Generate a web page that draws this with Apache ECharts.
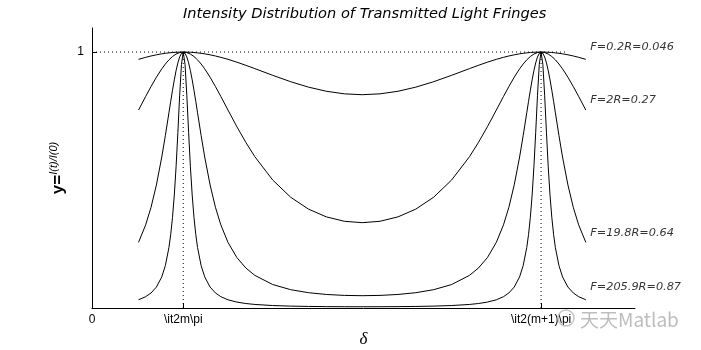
<!DOCTYPE html>
<html><head><meta charset="utf-8">
<script src="https://cdn.jsdelivr.net/npm/echarts@6/dist/echarts.min.js"></script>
<style>html,body{margin:0;padding:0;background:#fff}#c{width:701px;height:350px}</style>
</head><body><div id="c"></div>
<script>
// x positions of samples, in units of pi
const delta = [0.26,0.30,0.33,0.36,0.39,0.41,0.43,0.44,0.45,0.46,0.47,0.48,0.49,0.50,
0.51,
0.52,0.53,0.54,0.55,0.56,0.57,0.58,0.59,0.61,0.63,0.66,0.69,0.72,0.76,0.81,0.86,0.91,1.01,1.11,1.21,1.31,1.41,
1.51,
1.61,1.71,1.81,1.91,2.01,2.11,2.16,2.21,2.26,2.30,2.33,2.36,2.39,2.41,2.43,2.44,2.45,2.46,2.47,2.48,2.49,2.50,
2.51,
2.52,2.53,2.54,2.55,2.56,2.57,2.58,2.59,2.61,2.63,2.66,2.69,2.72,2.76];

const yF02 = [0.97154,0.97945,0.98467,0.98922,0.99303,0.99513,0.99687,0.9976,0.99823,0.99877,0.99921,0.99956,0.9998,0.99995,
1,
0.99995,0.9998,0.99956,0.99921,0.99877,0.99823,0.9976,0.99687,0.99513,0.99303,0.98922,0.98467,0.97945,0.97154,0.96041,0.94823,0.93537,0.90909,0.88425,0.86298,0.84681,0.83675,
0.83333,
0.83675,0.84681,0.86298,0.88425,0.90909,0.93537,0.94823,0.96041,0.97154,0.97945,0.98467,0.98922,0.99303,0.99513,0.99687,0.9976,0.99823,0.99877,0.99921,0.99956,0.9998,0.99995,
1,
0.99995,0.9998,0.99956,0.99921,0.99877,0.99823,0.9976,0.99687,0.99513,0.99303,0.98922,0.98467,0.97945,0.97154];

const yF2 = [0.77346,0.82655,0.8653,0.90172,0.93438,0.95334,0.96954,0.97648,0.9826,0.98784,0.99218,0.99558,0.99803,0.99951,
1,
0.99951,0.99803,0.99558,0.99218,0.98784,0.9826,0.97648,0.96954,0.95334,0.93438,0.90172,0.8653,0.82655,0.77346,0.70811,0.64683,0.59137,0.5,0.43308,0.38643,0.35599,0.33886,
0.33333,
0.33886,0.35599,0.38643,0.43308,0.5,0.59137,0.64683,0.70811,0.77346,0.82655,0.8653,0.90172,0.93438,0.95334,0.96954,0.97648,0.9826,0.98784,0.99218,0.99558,0.99803,0.99951,
1,
0.99951,0.99803,0.99558,0.99218,0.98784,0.9826,0.97648,0.96954,0.95334,0.93438,0.90172,0.8653,0.82655,0.77346];

const yF198 = [0.25643,0.32494,0.39352,0.48099,0.5899,0.67361,0.76277,0.80747,0.8508,0.89136,0.92759,0.95791,0.98084,0.99514,
1,
0.99514,0.98084,0.95791,0.92759,0.89136,0.8508,0.80747,0.76277,0.67361,0.5899,0.48099,0.39352,0.32494,0.25643,0.19681,0.15612,0.12754,0.09174,0.07164,0.05981,0.05288,0.04922,
0.04808,
0.04922,0.05288,0.05981,0.07164,0.09174,0.12754,0.15612,0.19681,0.25643,0.32494,0.39352,0.48099,0.5899,0.67361,0.76277,0.80747,0.8508,0.89136,0.92759,0.95791,0.98084,0.99514,
1,
0.99514,0.98084,0.95791,0.92759,0.89136,0.8508,0.80747,0.76277,0.67361,0.5899,0.48099,0.39352,0.32494,0.25643];

const yF2059 = [0.0321,0.04424,0.05873,0.08183,0.12151,0.1656,0.23617,0.2874,0.35417,0.44102,0.55194,0.68639,0.83116,0.95166,
1,
0.95166,0.83116,0.68639,0.55194,0.44102,0.35417,0.2874,0.23617,0.1656,0.12151,0.08183,0.05873,0.04424,0.0321,0.02302,0.01748,0.01386,0.00962,0.00737,0.00608,0.00534,0.00495,
0.00483,
0.00495,0.00534,0.00608,0.00737,0.00962,0.01386,0.01748,0.02302,0.0321,0.04424,0.05873,0.08183,0.12151,0.1656,0.23617,0.2874,0.35417,0.44102,0.55194,0.68639,0.83116,0.95166,
1,
0.95166,0.83116,0.68639,0.55194,0.44102,0.35417,0.2874,0.23617,0.1656,0.12151,0.08183,0.05873,0.04424,0.0321];

const curveNames = ['F=0.2R=0.046','F=2R=0.27','F=19.8R=0.64','F=205.9R=0.87'];
const labelX = [2.785,2.785,2.785,2.785];
const labelY = [1.02,0.8125,0.293,0.082];
const peakX = [0.51, 2.51];
const guideXEnd = 2.66;
const xTickValues = [0, 0.51, 2.51];
const xTickLabels = ['0','\\it2m\\pi','\\it2(m+1)\\pi'];
const yTickValues = [1];
const yTickLabels = ['1'];

const FONT = '"Liberation Sans", Arial, sans-serif';
const WFONT = '"DejaVu Sans", sans-serif';
const chart = echarts.init(document.getElementById('c'), null, {renderer:'canvas'});
const curves = [yF02, yF2, yF198, yF2059];
const series = curves.map((ys,k)=>({
  type:'line', name:curveNames[k], showSymbol:false, symbol:'none', animation:false,
  lineStyle:{color:'#000', width:1}, data: delta.map((x,i)=>[x, ys[i]]), z:3
}));
const dotStyle = {color:'#000', width:1, type:[1,3]};
series.push({type:'line', symbol:'none', animation:false, lineStyle:dotStyle, data:[[0,yTickValues[0]],[guideXEnd,yTickValues[0]]], z:2});
peakX.forEach(px=>series.push({type:'line', symbol:'none', animation:false, lineStyle:dotStyle, data:[[px,0],[px,yTickValues[0]]], z:2}));
series.push({type:'scatter', symbolSize:0, animation:false,
  data: labelX.map((x,i)=>({value:[x,labelY[i]], name:curveNames[i]})),
  label:{show:true, position:'right', distance:0, formatter:p=>p.name, color:'#000', fontSize:11.3, fontStyle:'italic', fontFamily:WFONT}
});

chart.setOption({
  backgroundColor:'#fff',
  animation:false,
  title:{text:'Intensity Distribution of Transmitted Light Fringes', left:178, top:2,
    textStyle:{fontSize:14.6, fontStyle:'italic', fontWeight:'normal', color:'#000', fontFamily:WFONT}},
  grid:{left:92, right:66, top:28, bottom:42, containLabel:false, outerBoundsMode:'none'},
  xAxis:{type:'value', min:0, max:3.035,
    axisLine:{show:true, onZero:false, lineStyle:{color:'#000', width:1}},
    axisTick:{show:true, inside:true, length:5, customValues:xTickValues, lineStyle:{color:'#000'}},
    axisLabel:{show:true, customValues:xTickValues, margin:6, color:'#000', fontSize:12, fontFamily:FONT,
      formatter:v=>{const i=xTickValues.findIndex(t=>Math.abs(t-v)<1e-6); return i>=0?xTickLabels[i]:'';}},
    splitLine:{show:false},
    name:'δ', nameLocation:'middle', nameGap:22,
    nameTextStyle:{fontSize:17, fontStyle:'italic', color:'#000', fontFamily:'"Liberation Serif", serif'}
  },
  yAxis:{type:'value', min:0, max:1.094,
    axisLine:{show:true, onZero:false, lineStyle:{color:'#000', width:1}},
    axisTick:{show:true, inside:true, length:5, customValues:yTickValues, lineStyle:{color:'#000'}},
    axisLabel:{show:true, customValues:yTickValues, margin:8, color:'#000', fontSize:12, fontFamily:FONT,
      formatter:v=>{const i=yTickValues.findIndex(t=>Math.abs(t-v)<1e-6); return i>=0?yTickLabels[i]:'';}},
    splitLine:{show:false},
    name:'{a|y=}{b|I(t)/I(0)}', nameLocation:'middle', nameRotate:90, nameGap:19,
    nameTextStyle:{color:'#000', rich:{
      a:{fontSize:17, fontWeight:'bold', color:'#000', fontFamily:FONT},
      b:{fontSize:11, fontStyle:'italic', color:'#000', fontFamily:FONT, padding:[0,0,8,0]}
    }}
  },
  graphic:[
    {type:'circle', shape:{cx:566, cy:318, r:8}, style:{fill:'none', stroke:'#c4c4c4', lineWidth:1.5}, z:100},
    {type:'text', x:580, y:320, style:{text:'天天Matlab', fill:'#bdbdbd', font:'19px "Noto Sans CJK SC", sans-serif', textVerticalAlign:'middle', stroke:'rgba(255,255,255,0.8)', lineWidth:2}, z:100}
  ],
  series: series
});
</script></body></html>
